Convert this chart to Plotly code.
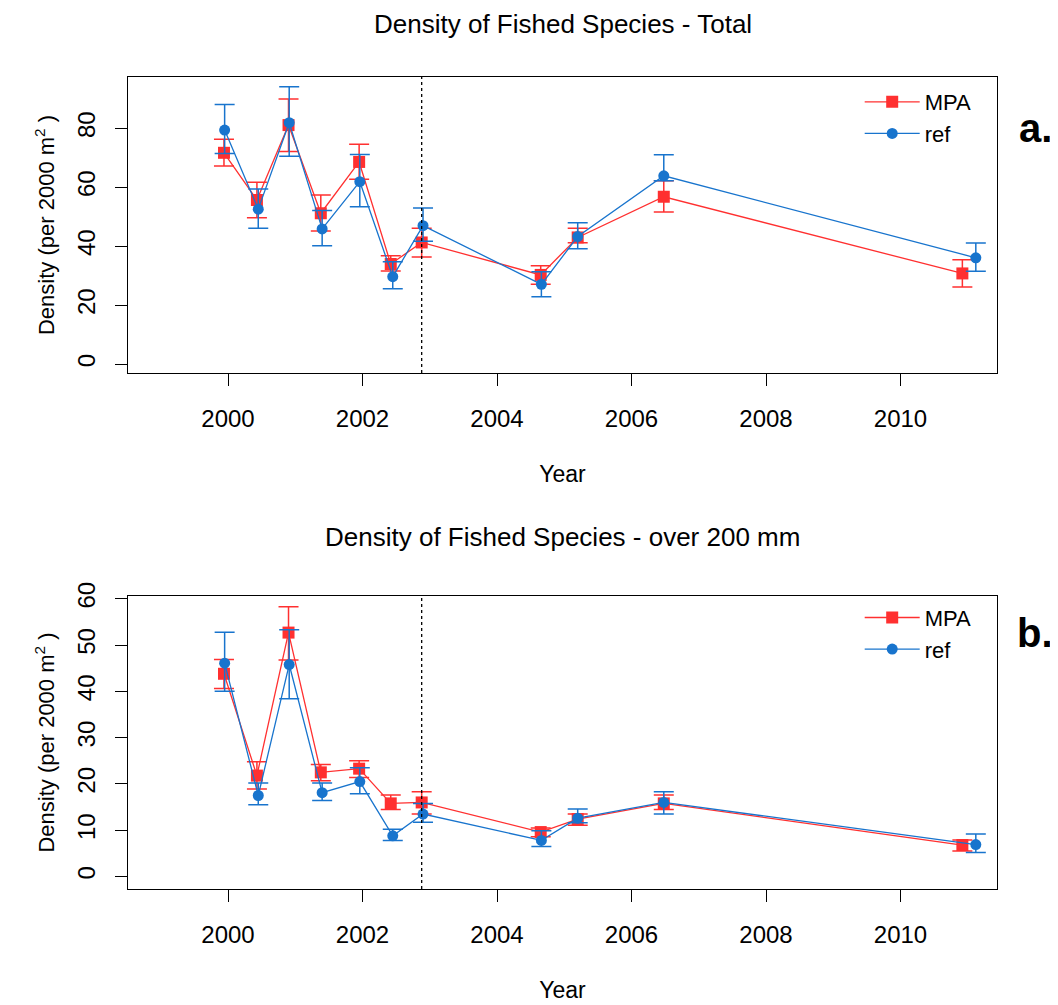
import plotly.graph_objects as go
from plotly.subplots import make_subplots

# survey dates (decimal year), MPA and reference sites are slightly dodged
years_mpa = [1999.94, 2000.43, 2000.90, 2001.38, 2001.95, 2002.42, 2002.88, 2004.65, 2005.20, 2006.48, 2010.92]
years_ref = [1999.95, 2000.45, 2000.91, 2001.40, 2001.96, 2002.45, 2002.90, 2004.66, 2005.20, 2006.48, 2011.12]
mpa_start = 2002.88

# total density
mpa_total = [71.7, 55.7, 81.1, 51.2, 68.6, 34.0, 41.3, 30.3, 43.0, 56.8, 30.8]
mpa_total_hi = [76.3, 61.7, 89.9, 57.4, 74.6, 36.8, 46.1, 33.4, 46.1, 62.2, 35.4]
mpa_total_lo = [67.2, 49.7, 72.1, 45.2, 62.7, 31.6, 36.4, 27.1, 41.2, 51.6, 26.2]
ref_total = [79.4, 52.6, 81.9, 45.9, 61.9, 29.7, 47.0, 27.1, 43.3, 63.9, 36.1]
ref_total_hi = [88.1, 59.4, 94.1, 52.1, 71.1, 34.8, 53.0, 31.4, 48.0, 71.0, 41.1]
ref_total_lo = [71.5, 46.1, 70.5, 40.2, 53.4, 25.6, 41.7, 22.9, 39.2, 62.2, 31.5]

# density of fish over 200 mm
mpa_200 = [43.8, 21.8, 52.7, 22.5, 23.3, 15.8, 16.0, 9.6, 12.4, 15.8, 6.8]
mpa_200_hi = [46.9, 24.8, 58.3, 24.2, 25.0, 17.6, 18.3, 10.5, 13.5, 17.6, 7.9]
mpa_200_lo = [40.6, 18.9, 46.8, 20.7, 21.4, 14.5, 13.5, 8.6, 11.1, 14.5, 5.5]
ref_200 = [46.1, 17.5, 45.8, 18.1, 20.5, 8.8, 13.5, 7.8, 12.6, 16.0, 6.9]
ref_200_hi = [52.8, 20.2, 53.3, 20.2, 23.5, 10.2, 15.8, 9.9, 14.6, 18.3, 9.2]
ref_200_lo = [40.0, 15.5, 38.4, 16.4, 17.9, 7.8, 11.7, 6.5, 11.6, 13.5, 5.2]

RED = '#FF3030'
BLUE = '#1874CD'
FONT = 'Liberation Sans'


def err(mid, hi, lo, color):
    return dict(type='data', symmetric=False,
                array=[h - m for h, m in zip(hi, mid)],
                arrayminus=[m - l for m, l in zip(mid, lo)],
                color=color, thickness=1.5, width=10)


fig = make_subplots(rows=2, cols=1)

panels = [
    (1, 'legend', mpa_total, mpa_total_hi, mpa_total_lo, ref_total, ref_total_hi, ref_total_lo),
    (2, 'legend2', mpa_200, mpa_200_hi, mpa_200_lo, ref_200, ref_200_hi, ref_200_lo),
]
for row, leg, m, mh, ml, r, rh, rl in panels:
    fig.add_trace(go.Scatter(x=years_mpa, y=m, mode='lines+markers', name='MPA', legend=leg,
                             line=dict(color=RED, width=1.3),
                             marker=dict(symbol='square', size=12, color=RED),
                             error_y=err(m, mh, ml, RED)), row=row, col=1)
    fig.add_trace(go.Scatter(x=years_ref, y=r, mode='lines+markers', name='ref', legend=leg,
                             line=dict(color=BLUE, width=1.3),
                             marker=dict(symbol='circle', size=11, color=BLUE),
                             error_y=err(r, rh, rl, BLUE)), row=row, col=1)
    fig.add_vline(x=mpa_start, line=dict(color='black', width=1.3, dash='dot'), row=row, col=1)

axis_style = dict(showline=True, linecolor='black', linewidth=1.3, mirror=True,
                  ticks='outside', ticklen=12, tickwidth=1.3, tickcolor='black',
                  showgrid=False, zeroline=False,
                  tickfont=dict(family=FONT, size=24, color='black'))

for row in (1, 2):
    fig.update_xaxes(range=[1998.513, 2011.435], tickvals=[2000, 2002, 2004, 2006, 2008, 2010],
                     ticklabelstandoff=12,
                     title=dict(text='Year', font=dict(family=FONT, size=23, color='black'), standoff=34),
                     row=row, col=1, **axis_style)

fig.update_yaxes(range=[-2.95, 97.4], tickvals=[0, 20, 40, 60, 80], domain=[0.6355, 1.0],
                 row=1, col=1, **axis_style)
fig.update_yaxes(range=[-2.7, 60.6], tickvals=[0, 10, 20, 30, 40, 50, 60], domain=[0.0, 0.3608],
                 row=2, col=1, **axis_style)
fig.update_yaxes(tickangle=-90, ticklabelstandoff=10,
                 title=dict(text='Density (per 2000 m<sup>2</sup> )',
                            font=dict(family=FONT, size=22, color='black'), standoff=12))

legend_style = dict(xanchor='left', yanchor='top', bgcolor='rgba(0,0,0,0)', itemwidth=55,
                    font=dict(family=FONT, size=22, color='black'), tracegroupgap=0)

fig.update_layout(
    width=1058, height=1005,
    margin=dict(l=120, r=69, t=69, b=124),
    paper_bgcolor='white', plot_bgcolor='white',
    font=dict(family=FONT, color='black'),
    legend=dict(x=0.842, y=0.995, **legend_style),
    legend2=dict(x=0.842, y=0.36, **legend_style),
)

titles = [('Density of Fished Species - Total', 1.0652), ('Density of Fished Species - over 200 mm', 0.434)]
for text, y in titles:
    fig.add_annotation(text=text, x=0.5, y=y, xref='paper', yref='paper', showarrow=False,
                       xanchor='center', yanchor='middle',
                       font=dict(family=FONT, size=26, color='black'))

for text, y in [('a.', 0.937), ('b.', 0.315)]:
    fig.add_annotation(text='<b>' + text + '</b>', x=1.044, y=y, xref='paper', yref='paper',
                       showarrow=False, xanchor='center', yanchor='middle',
                       font=dict(family=FONT, size=40, color='black'))

fig.write_html('out.html')
